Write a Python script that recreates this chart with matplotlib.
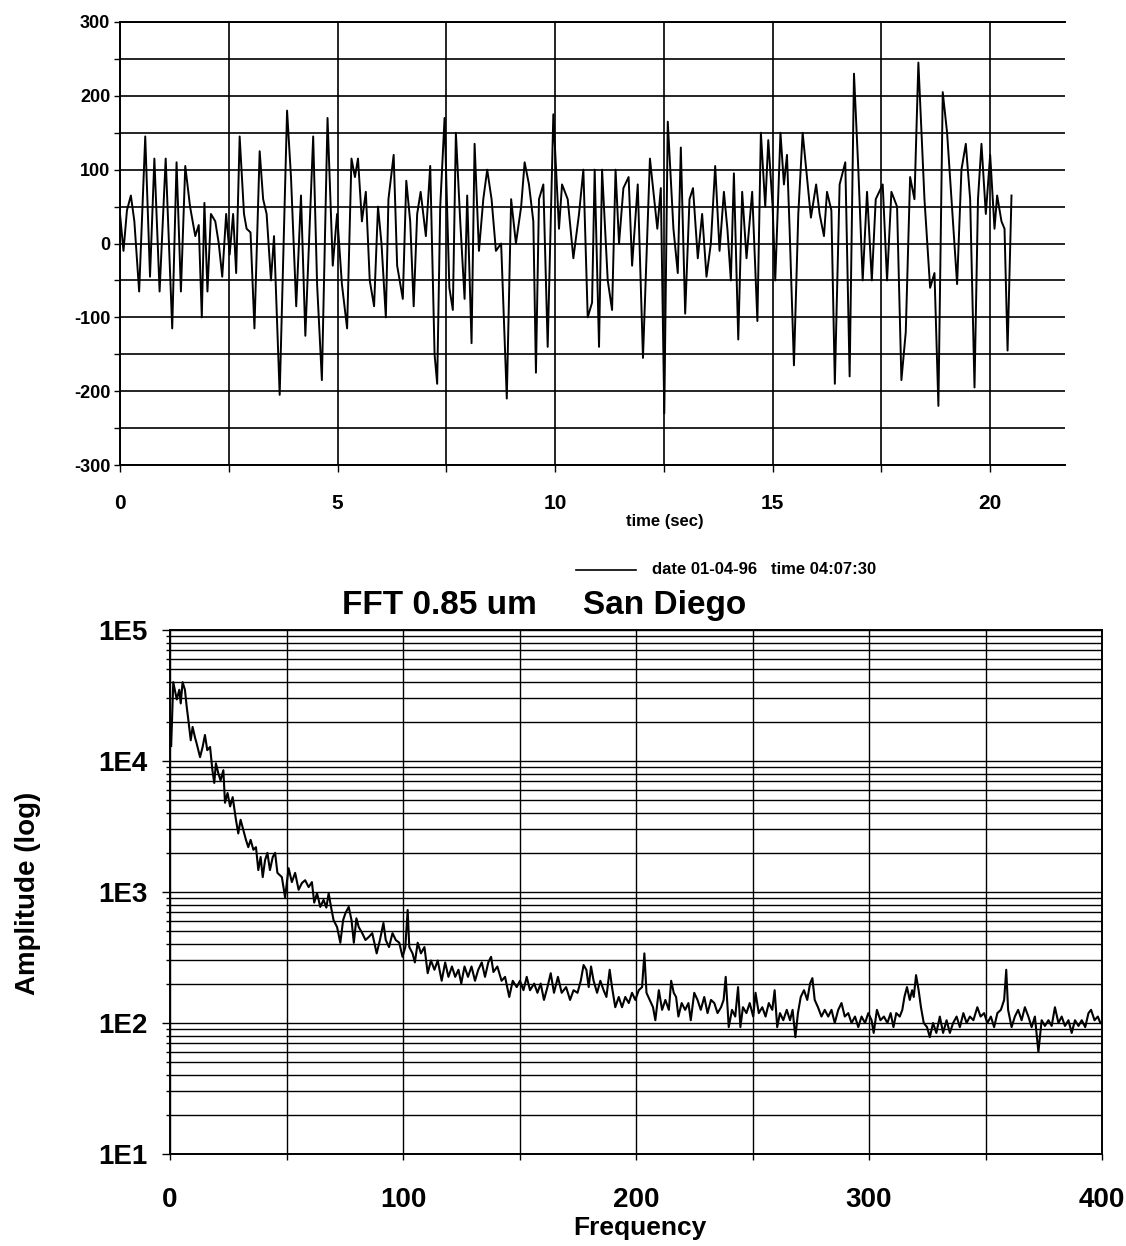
import matplotlib
matplotlib.use("Agg")
import matplotlib.pyplot as plt
from matplotlib.ticker import MultipleLocator, LogLocator, NullFormatter, FixedLocator

plt.rcParams['font.family'] = ['Liberation Sans', 'DejaVu Sans']
plt.rcParams['font.weight'] = 'bold'

# --- top panel: signal vs time ---
t_sec = [0.00, 0.08, 0.16, 0.25, 0.33, 0.44, 0.58, 0.69, 0.79, 0.91, 1.05, 1.20, 1.30, 1.40, 1.50,
         1.61, 1.73, 1.81, 1.88, 1.94, 2.01, 2.09, 2.19, 2.27, 2.35, 2.44, 2.52, 2.60, 2.67, 2.75,
         2.85, 2.91, 3.00, 3.09, 3.21, 3.29, 3.37, 3.47, 3.54, 3.67, 3.84, 3.93, 4.05, 4.16, 4.26,
         4.44, 4.53, 4.64, 4.77, 4.89, 4.99, 5.10, 5.22, 5.32, 5.40, 5.47, 5.56, 5.65, 5.74, 5.84,
         5.93, 6.01, 6.11, 6.17, 6.29, 6.37, 6.50, 6.58, 6.67, 6.75, 6.83, 6.91, 7.03, 7.13, 7.23,
         7.29, 7.36, 7.46, 7.57, 7.65, 7.72, 7.82, 7.92, 7.98, 8.08, 8.15, 8.25, 8.35, 8.44, 8.54,
         8.64, 8.76, 8.89, 8.99, 9.10, 9.22, 9.30, 9.40, 9.50, 9.56, 9.63, 9.73, 9.83, 9.96, 10.09,
         10.16, 10.29, 10.42, 10.55, 10.65, 10.75, 10.85, 10.91, 11.01, 11.08, 11.21, 11.31, 11.39,
         11.47, 11.57, 11.69, 11.77, 11.90, 12.02, 12.18, 12.26, 12.35, 12.43, 12.51, 12.59, 12.72,
         12.82, 12.89, 12.99, 13.09, 13.17, 13.28, 13.38, 13.48, 13.58, 13.68, 13.78, 13.88, 13.96,
         14.04, 14.11, 14.21, 14.30, 14.40, 14.53, 14.65, 14.73, 14.83, 14.90, 15.00, 15.06, 15.18,
         15.26, 15.33, 15.39, 15.49, 15.59, 15.69, 15.79, 15.88, 16.00, 16.08, 16.18, 16.25, 16.35,
         16.43, 16.54, 16.67, 16.77, 16.87, 16.97, 17.07, 17.17, 17.28, 17.37, 17.53, 17.63, 17.73,
         17.86, 17.96, 18.06, 18.16, 18.26, 18.35, 18.49, 18.62, 18.72, 18.81, 18.91, 19.01, 19.11,
         19.24, 19.34, 19.44, 19.54, 19.64, 19.72, 19.80, 19.90, 20.00, 20.10, 20.16, 20.26, 20.33,
         20.40, 20.49]
signal = [40, -10, 45, 65, 30, -65, 145, -45, 115, -65, 115, -115, 110, -65, 105,
          50, 10, 25, -100, 55, -65, 40, 30, 0, -45, 40, -15, 40, -40, 145,
          40, 20, 15, -115, 125, 60, 40, -50, 10, -205, 180, 90, -85, 65, -125,
          145, -55, -185, 170, -30, 40, -55, -115, 115, 90, 115, 30, 70, -50, -85,
          50, 0, -100, 60, 120, -30, -75, 85, 30, -85, 40, 70, 10, 105, -150,
          -190, 50, 170, -60, -90, 150, 30, -75, 65, -135, 135, -10, 60, 100, 60,
          -10, 0, -210, 60, 0, 50, 110, 80, 30, -175, 60, 80, -140, 175, 20,
          80, 60, -20, 40, 100, -100, -80, 100, -140, 100, -50, -90, 100,
          0, 75, 90, -30, 80, -155, 115, 70, 20, 75, -230, 165, 20,
          -40, 130, -95, 60, 75, -20, 40, -45, 0, 105, -10, 70, 20,
          -50, 95, -130, 70, -20, 70, -105, 150, 50, 140, 50, -50, 150,
          80, 120, 20, -165, 40, 150, 90, 35, 80, 40, 10, 70, 45,
          -190, 80, 110, -180, 230, 100, -50, 70, -50, 60, 80, -50, 70,
          50, -185, -120, 90, 60, 245, 60, -60, -40, -220, 205, 150, 60,
          -55, 100, 135, 60, -195, 60, 135, 40, 120, 20, 65, 30, 20,
          -145, 65]
top_yticks = [300, 200, 100, 0, -100, -200, -300]
top_xticks = [0, 5, 10, 15, 20]

# --- bottom panel: FFT amplitude vs frequency ---
freq = [0.5, 1.4, 2.9, 4.0, 4.6, 5.4, 6.4, 7.2, 7.9, 8.9, 9.7, 10.7, 11.4, 12.9, 14.0, 15.0, 16.0,
        17.2, 18.2, 19.0, 19.7, 20.7, 21.7, 22.9, 23.6, 24.7, 25.8, 26.9, 28.3, 29.3, 30.3, 31.5,
        32.6, 33.6, 34.6, 35.8, 36.9, 37.9, 38.9, 39.8, 40.8, 41.8, 42.9, 44.1, 45.1, 46.1, 48.0,
        49.4, 50.9, 52.3, 53.7, 55.2, 56.6, 58.0, 59.5, 60.9, 61.9, 63.1, 64.5, 65.9, 67.1, 68.1,
        69.1, 70.2, 71.7, 73.1, 74.3, 75.3, 76.7, 77.9, 78.9, 80.0, 81.0, 82.5, 83.9, 85.4, 86.8,
        88.7, 90.1, 91.6, 92.6, 94.0, 95.5, 96.9, 98.4, 99.8, 101.0, 102.0, 102.7, 104.1, 105.1,
        106.3, 107.7, 109.2, 110.6, 112.0, 113.5, 114.9, 116.6, 118.1, 119.5, 121.0, 122.4, 123.8,
        125.0, 126.4, 127.9, 129.4, 130.9, 132.3, 133.8, 135.2, 136.6, 137.8, 138.8, 140.5, 142.3,
        143.8, 145.6, 147.1, 148.8, 150.2, 151.7, 153.1, 154.5, 156.3, 157.7, 159.1, 160.5, 162.0,
        163.4, 164.8, 166.5, 168.1, 170.0, 171.7, 173.2, 174.9, 176.3, 177.5, 178.7, 179.7, 180.7,
        181.8, 183.3, 184.7, 186.1, 187.3, 188.7, 189.7, 191.1, 192.6, 194.0, 195.4, 196.9, 198.3,
        199.7, 201.2, 202.6, 203.6, 204.5, 205.9, 207.3, 208.3, 209.8, 211.2, 212.6, 214.1, 215.1,
        216.2, 217.2, 218.2, 219.6, 221.1, 222.5, 223.5, 225.0, 226.4, 227.8, 229.3, 230.7, 232.2,
        233.6, 235.0, 236.5, 237.6, 238.5, 239.8, 241.2, 242.6, 243.8, 244.8, 245.9, 247.4, 248.8,
        250.3, 251.3, 252.7, 254.2, 255.6, 257.0, 258.5, 259.5, 260.6, 261.8, 263.2, 264.7, 266.1,
        267.2, 268.4, 269.5, 270.7, 272.1, 273.5, 274.7, 275.7, 276.7, 278.1, 279.6, 281.0, 282.5,
        283.9, 285.3, 286.8, 288.2, 289.6, 291.1, 292.5, 294.0, 295.4, 296.8, 298.3, 299.7, 301.1,
        302.0, 303.4, 304.9, 306.4, 307.9, 309.3, 310.5, 311.7, 313.2, 314.3, 315.2, 316.3, 317.5,
        318.5, 319.2, 320.2, 321.3, 322.3, 323.5, 324.9, 326.1, 327.5, 328.9, 330.4, 331.8, 333.3,
        334.7, 336.1, 337.6, 339.0, 340.5, 341.9, 343.3, 344.8, 346.5, 347.9, 349.4, 350.8, 352.3,
        353.7, 355.1, 356.6, 358.0, 358.9, 359.7, 361.2, 362.6, 364.0, 365.5, 366.9, 368.4, 369.8,
        371.2, 372.7, 374.1, 375.5, 377.0, 378.4, 379.8, 381.3, 382.7, 384.1, 385.6, 387.0, 388.4,
        389.9, 391.3, 392.8, 394.2, 395.3, 396.8, 398.2, 399.3]
amp = [13000, 40000, 29500, 35000, 27500, 40000, 35000, 25700, 20400, 14400, 18200, 15200, 13700,
       10700, 12800, 15800, 12100, 12800, 8500, 6800, 9600, 8100, 7100, 8500, 4800, 5700, 4500,
       5300, 3560, 2800, 3560, 2970, 2500, 2200, 2500, 2100, 2200, 1470, 1850, 1300, 1750, 1990,
       1470, 1850, 1990, 1400, 1300, 910, 1520, 1190, 1400, 1040, 1170, 1230, 1090, 1190, 830,
       980, 770, 870, 760, 980, 770, 610, 540, 410, 610, 690, 770, 610, 410, 630, 540, 485, 430,
       455, 485, 340, 430, 580, 430, 380, 485, 430, 410, 320, 380, 730, 380, 340, 290, 410, 340,
       380, 240, 300, 255, 300, 210, 290, 225, 270, 225, 255, 200, 270, 225, 270, 210, 255, 290,
       225, 290, 320, 245, 270, 210, 225, 158, 210, 188, 210, 178, 225, 178, 200, 170, 200, 150,
       188, 240, 170, 225, 170, 188, 150, 178, 170, 210, 277, 255, 188, 270, 210, 170, 210, 178,
       158, 255, 188, 132, 158, 132, 158, 142, 170, 150, 178, 188, 340, 170, 150, 132, 105, 178,
       126, 150, 126, 210, 170, 158, 112, 142, 126, 142, 105, 170, 150, 126, 158, 119, 150, 142,
       119, 132, 150, 225, 93, 126, 112, 188, 93, 132, 119, 142, 112, 170, 119, 132, 112, 142,
       126, 178, 93, 119, 105, 126, 105, 126, 78, 119, 158, 178, 150, 200, 220, 150, 132, 112,
       126, 112, 126, 100, 126, 142, 112, 119, 100, 112, 93, 112, 100, 119, 105, 84, 126, 105,
       112, 100, 119, 93, 119, 112, 126, 158, 188, 150, 178, 158, 232, 178, 132, 100, 93, 78,
       100, 84, 112, 84, 105, 84, 100, 112, 93, 119, 100, 112, 105, 132, 112, 119, 100, 112, 93,
       119, 126, 150, 255, 126, 93, 112, 126, 105, 132, 112, 93, 112, 60, 105, 95, 105, 95, 132,
       100, 112, 95, 105, 84, 105, 95, 105, 93, 119, 126, 105, 112, 100]
log_ticks = [10, 100, 1000, 10000, 100000]
log_labels = ['1E1', '1E2', '1E3', '1E4', '1E5']
freq_ticks = [0, 100, 200, 300, 400]

fig = plt.figure(figsize=(11.26, 12.46), dpi=100)
W, H = 1126.0, 1246.0

# top axes
ax1 = fig.add_axes([120 / W, 1 - 465 / H, 945 / W, 443 / H])
ax1.plot(t_sec, signal, color='black', lw=1.4)
ax1.set_xlim(0, 21.72)
ax1.set_ylim(-300, 300)
ax1.set_yticks(top_yticks)
ax1.set_yticklabels([str(v) for v in top_yticks], fontsize=13, fontweight='bold')
ax1.yaxis.set_minor_locator(MultipleLocator(50))
ax1.set_xticks(top_xticks)
ax1.set_xticklabels([str(v) for v in top_xticks], fontsize=15, fontweight='bold')
ax1.xaxis.set_minor_locator(MultipleLocator(2.5))
ax1.grid(which='both', color='black', lw=1.2)
ax1.tick_params(axis='y', which='both', length=4, pad=3, width=1)
ax1.tick_params(axis='x', which='both', length=5, pad=16, width=1)
ax1.spines['right'].set_visible(False)
for s in ['left', 'bottom', 'top']:
    ax1.spines[s].set_linewidth(1.4)

fig.text(665 / W, 1 - 521 / H, 'time (sec)', ha='center', va='center', fontsize=12, fontweight='bold')

# legend line + text
fig.add_artist(plt.Line2D([576 / W, 636 / W], [1 - 570 / H, 1 - 570 / H], color='black', lw=1.2))
fig.text(652 / W, 1 - 570 / H, 'date 01-04-96   time 04:07:30', ha='left', va='center',
         fontsize=12, fontweight='bold')

# title
fig.text(342 / W, 1 - 614 / H, 'FFT 0.85 um', ha='left', va='baseline', fontsize=24, fontweight='bold')
fig.text(583 / W, 1 - 614 / H, 'San Diego', ha='left', va='baseline', fontsize=24, fontweight='bold')

# bottom axes
ax2 = fig.add_axes([170 / W, 1 - 1154 / H, 932 / W, 524 / H])
ax2.plot(freq, amp, color='black', lw=1.5)
ax2.set_yscale('log')
ax2.set_ylim(10, 100000)
ax2.set_xlim(0, 400)
ax2.yaxis.set_major_locator(FixedLocator(log_ticks))
ax2.set_yticklabels(log_labels, fontsize=20, fontweight='bold')
ax2.yaxis.set_minor_locator(LogLocator(base=10, subs=range(2, 10)))
ax2.yaxis.set_minor_formatter(NullFormatter())
ax2.set_xticks(freq_ticks)
ax2.set_xticklabels([str(v) for v in freq_ticks], fontsize=20, fontweight='bold')
ax2.xaxis.set_minor_locator(MultipleLocator(50))
ax2.grid(which='both', color='black', lw=1.0)
ax2.tick_params(axis='y', which='major', length=6, pad=10, width=1)
ax2.tick_params(axis='y', which='minor', length=3, width=1)
ax2.tick_params(axis='x', which='both', length=4, pad=20, width=1)
for s in ax2.spines.values():
    s.set_linewidth(1.4)

fig.text(640 / W, 1 - 1228 / H, 'Frequency', ha='center', va='center', fontsize=19, fontweight='bold')
fig.text(28 / W, 1 - 893 / H, 'Amplitude (log)', ha='center', va='center', rotation=90,
         fontsize=20, fontweight='bold')

fig.savefig('out.png', dpi=100)
